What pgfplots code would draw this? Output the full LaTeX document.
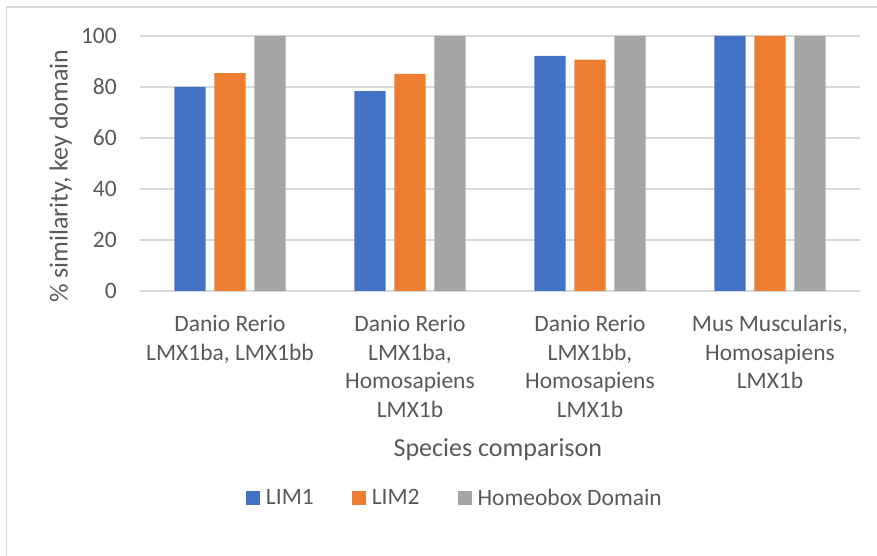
\documentclass[border=0pt]{standalone}
\usepackage{pgfplots}
\pgfplotsset{compat=1.18}
\usepackage{fontspec}
\setmainfont{Carlito}

\definecolor{lima}{HTML}{4472C4}
\definecolor{limb}{HTML}{ED7D31}
\definecolor{homeo}{HTML}{A5A5A5}
\definecolor{txt}{HTML}{595959}
\definecolor{gridc}{HTML}{D9D9D9}

\newcommand{\tickfont}{\fontsize{23.5}{28.7}\selectfont}
\newcommand{\titlefont}{\fontsize{26}{31}\selectfont}

\begin{document}
\begin{tikzpicture}[x=1pt,y=1pt]
\path[use as bounding box] (0,0) rectangle (877,556);
% chart frame (top and left edges)
\draw[gridc, line width=1.2pt] (6.5,0) -- (6.5,549) -- (877,549);

\begin{axis}[
  at={(140pt,265pt)}, anchor=south west,
  scale only axis, width=720pt, height=255pt,
  ybar=8.7pt, bar width=31.3pt,
  xmin=-0.5, xmax=3.5, ymin=0, ymax=100,
  xtick={0,1,2,3},
  xticklabels={
    {Danio Rerio\\LMX1ba, LMX1bb},
    {Danio Rerio\\LMX1ba,\\Homosapiens\\LMX1b},
    {Danio Rerio\\LMX1bb,\\Homosapiens\\LMX1b},
    {Mus Muscularis,\\Homosapiens\\LMX1b}},
  xticklabel style={align=center, font=\tickfont, text=txt, anchor=north, inner sep=0pt, yshift=-24pt},
  ytick={0,20,40,60,80,100},
  yticklabel style={font=\tickfont, text=txt, anchor=east, inner sep=0pt, xshift=-23pt},
  /pgf/number format/assume math mode=true,
  major tick length=0pt,
  axis line style={draw=none},
  ymajorgrids, grid style={gridc, line width=1.3pt},
  xlabel={Species comparison},
  xlabel style={at={(rel axis cs:0.497,-0.6235)}, anchor=center, font=\titlefont, text=txt},
  ylabel={\% similarity, key domain},
  ylabel style={at={(rel axis cs:-0.11,0.45)}, anchor=center, rotate=0, font=\titlefont, text=txt},
  legend columns=3,
  legend style={at={(rel axis cs:0.436,-0.812)}, anchor=center, draw=none, fill=none,
    font=\tickfont, text=txt, nodes={inner sep=0pt},
    /tikz/every odd column/.append style={column sep=6pt},
    /tikz/every even column/.append style={column sep=38pt}},
  legend image code/.code={\fill[#1] (0pt,-7pt) rectangle (14pt,7pt);},
]
\addplot[fill=lima, draw=none] coordinates {(0,80.0) (1,78.4) (2,92.2) (3,100)};
\addplot[fill=limb, draw=none] coordinates {(0,85.4) (1,85.1) (2,90.7) (3,100)};
\addplot[fill=homeo, draw=none] coordinates {(0,100) (1,100) (2,100) (3,100)};
\legend{LIM1, LIM2, Homeobox Domain}
\end{axis}
\end{tikzpicture}
\end{document}
